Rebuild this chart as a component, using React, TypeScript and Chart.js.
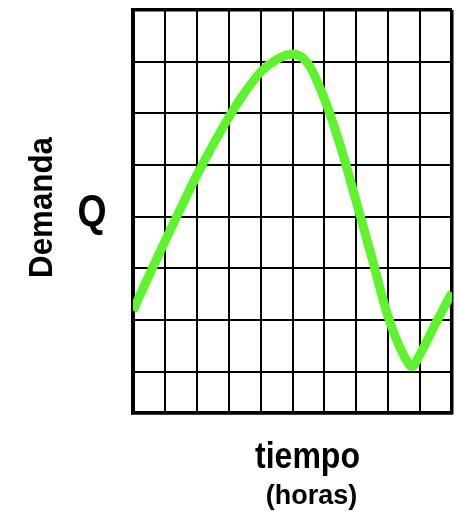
import React, { useEffect, useRef } from "react";
import { Chart, registerables } from "chart.js";

Chart.register(...registerables);

// Curve samples (x = time grid units, y = demand grid units)
const TIME_VALUES = [0, 0.5, 1, 1.5, 2, 2.5, 3, 3.5, 4, 4.5, 5, 5.5, 6, 6.5, 7, 7.5, 8, 8.5, 8.75, 9, 9.5, 10];
const DEMAND_VALUES = [1.18, 1.86, 2.52, 3.17, 3.8, 4.38, 4.92, 5.4, 5.8, 6.04, 6.15, 5.95, 5.28, 4.37, 3.29, 2.18, 1.06, 0.3, 0.1, 0.34, 0.95, 1.53];

// Grid lines
const X_GRID = [0, 1, 2, 3, 4, 5, 6, 7, 8, 9, 10];
const Y_GRID = [-0.8, 0, 1, 2, 3, 4, 5, 6, 7];

const Y_LABEL = "Demanda";
const Y_SYMBOL = "Q";
const X_LABEL = "tiempo";
const X_UNIT = "(horas)";

const FONT = '"Liberation Sans", Arial, sans-serif';

const labelsPlugin = {
  id: "labels",
  afterDraw(chart: any) {
    const ctx = chart.ctx as CanvasRenderingContext2D;
    ctx.save();
    ctx.fillStyle = "#000";
    const draw = (text: string, x: number, y: number, size: number, sx: number, rot = 0) => {
      ctx.save();
      ctx.translate(x, y);
      if (rot) ctx.rotate(rot);
      ctx.scale(sx, 1);
      ctx.font = `bold ${size}px ${FONT}`;
      ctx.textAlign = "center";
      ctx.textBaseline = "alphabetic";
      ctx.fillText(text, 0, 0);
      ctx.restore();
    };
    draw(Y_LABEL, 52, 207.5, 34, 0.92, -Math.PI / 2);
    draw(Y_SYMBOL, 92, 226, 44, 0.85);
    draw(X_LABEL, 307.5, 468, 36, 0.89);
    draw(X_UNIT, 311.5, 504, 27, 1.0);
    ctx.restore();
  },
};

export default function App() {
  const ref = useRef<HTMLCanvasElement | null>(null);

  useEffect(() => {
    if (!ref.current) return;
    const data = TIME_VALUES.map((x, i) => ({ x, y: DEMAND_VALUES[i] }));
    const edgeWidth = (c: any) => {
      const n = c.scale.ticks.length;
      return c.index === 0 || c.index === n - 1 ? 3.5 : 2;
    };
    const chart = new Chart(ref.current, {
      type: "line",
      data: {
        datasets: [
          {
            data,
            borderColor: "#5ef42c",
            borderWidth: 9,
            pointRadius: 0,
            cubicInterpolationMode: "monotone",
            borderJoinStyle: "round",
            fill: false,
          },
        ],
      },
      options: {
        responsive: false,
        animation: false,
        layout: { padding: { left: 133, right: 6, top: 10, bottom: 98 } },
        plugins: { legend: { display: false }, tooltip: { enabled: false } },
        scales: {
          x: {
            type: "linear",
            min: 0,
            max: 10,
            afterBuildTicks: (s: any) => {
              s.ticks = X_GRID.map((v) => ({ value: v }));
            },
            ticks: { display: false },
            grid: { color: "#000", lineWidth: edgeWidth, drawTicks: false },
            border: { display: true, color: "#000", width: 3.5 },
          },
          y: {
            type: "linear",
            min: -0.8,
            max: 7,
            afterBuildTicks: (s: any) => {
              s.ticks = Y_GRID.map((v) => ({ value: v }));
            },
            ticks: { display: false },
            grid: { color: "#000", lineWidth: edgeWidth, drawTicks: false },
            border: { display: true, color: "#000", width: 4 },
          },
        },
      },
      plugins: [labelsPlugin],
    } as any);
    return () => chart.destroy();
  }, []);

  return (
    <div style={{ position: "fixed", left: 0, top: 0, width: 458, height: 511, background: "#fff" }}>
      <canvas ref={ref} width={458} height={511} style={{ display: "block" }} />
    </div>
  );
}
